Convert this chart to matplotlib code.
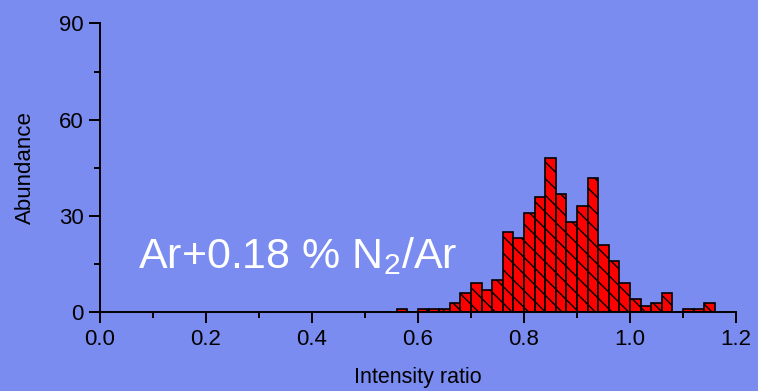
import matplotlib

matplotlib.use("Agg")

import matplotlib.pyplot as plt
import numpy as np
from matplotlib.ticker import MultipleLocator

# histogram of intensity ratios, 0.02-wide bins (left edges)
bin_left = np.round(np.arange(0.56, 1.16, 0.02), 2)
counts = [1, 0, 1, 1, 1, 3, 6, 9, 7, 10,
          25, 23, 31, 36, 48, 37, 28, 33, 42, 21,
          16, 9, 4, 2, 3, 6, 0, 1, 1, 3]
bin_width = 0.02

x_ticks = [0.0, 0.2, 0.4, 0.6, 0.8, 1.0, 1.2]
y_ticks = [0, 30, 60, 90]

bg = "#7b8cf0"
plt.rcParams["font.family"] = ["Liberation Sans", "DejaVu Sans"]
plt.rcParams["mathtext.fontset"] = "custom"
plt.rcParams["mathtext.rm"] = "Liberation Sans"
plt.rcParams["mathtext.it"] = "Liberation Sans"
plt.rcParams["hatch.linewidth"] = 1.0
plt.rcParams["hatch.color"] = "black"

fig = plt.figure(figsize=(7.58, 3.91), dpi=100, facecolor=bg)
ax = fig.add_axes([0.132, 0.2013, 0.839, 0.7387], facecolor=bg)

ax.bar(bin_left, counts, width=bin_width, align="edge",
       color="#ff0000", edgecolor="black", linewidth=1.2, hatch="\\\\")

ax.set_xlim(0, 1.2)
ax.set_ylim(0, 90)
ax.set_xticks(x_ticks)
ax.set_xticklabels([f"{v:.1f}" for v in x_ticks])
ax.set_yticks(y_ticks)
ax.xaxis.set_minor_locator(MultipleLocator(0.1))
ax.yaxis.set_minor_locator(MultipleLocator(15))

for side in ("top", "right"):
    ax.spines[side].set_visible(False)
for side in ("left", "bottom"):
    ax.spines[side].set_linewidth(1.4)

ax.tick_params(which="major", length=8, width=1.4, labelsize=16, pad=4)
ax.tick_params(which="minor", length=4.5, width=1.4)

ax.set_xlabel("Intensity ratio", fontsize=15.5, labelpad=12)
ax.set_ylabel("Abundance", fontsize=16, labelpad=16)

ax.text(0.072, 13.8, "Ar+0.18 % N$_\\mathrm{2}$/Ar", color="white", fontsize=31)

fig.savefig("out.png", dpi=100, facecolor=bg)
